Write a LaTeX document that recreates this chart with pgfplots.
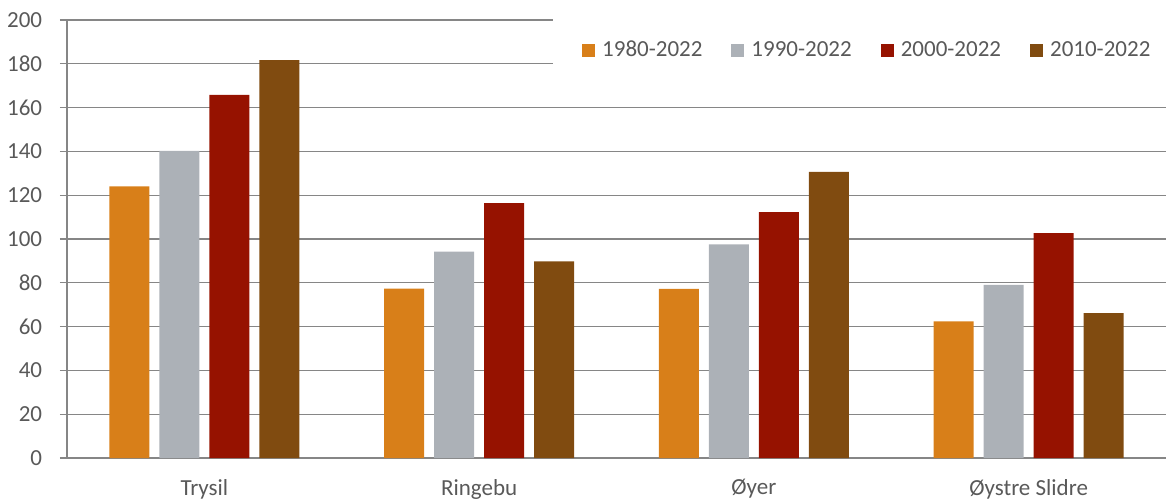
\documentclass[border=0pt]{standalone}
\usepackage{pgfplots}
\pgfplotsset{compat=1.18}
\usepackage{fontspec}
\setmainfont{Carlito}
\definecolor{c1}{HTML}{D87F19}
\definecolor{c2}{HTML}{ACB1B7}
\definecolor{c3}{HTML}{961200}
\definecolor{c4}{HTML}{804B10}
\definecolor{txt}{HTML}{595959}
\definecolor{gridc}{HTML}{868686}
\pgfplotsset{sqlegend/.style={legend image code/.code={\fill[##1,draw=none] (0pt,-6.5pt) rectangle (13pt,6.5pt); \path (17pt,0pt);}}}
\begin{document}
\fontsize{23}{27}\selectfont
\begin{tikzpicture}
\begin{axis}[name=ax,
  width=1099pt, height=438pt, scale only axis,
  xmin=-0.5, xmax=3.5, ymin=0, ymax=200,
  ytick={0,20,...,200},
  xtick={0,1,2,3},
  xticklabels={Trysil,Ringebu,Øyer,Øystre Slidre},
  ybar=10pt, bar width=40pt,
  axis x line*=bottom, axis y line*=left,
  axis line style={draw=gridc, line width=1.2pt, -},
  ymajorgrids, grid style={draw=gridc, line width=1.2pt},
  tick align=outside, major tick length=7pt,
  ytick style={draw=gridc, line width=1.2pt},
  xtick style={draw=none},
  ticklabel style={font=\fontsize{23}{27}\selectfont, text=txt},
  /pgf/number format/assume math mode=true,
  xticklabel style={yshift=-6.5pt},
  yticklabel style={xshift=-10pt},
  legend columns=4,
  legend style={draw=none, fill=none, at={(0.4686,0.93)}, anchor=west,
    inner sep=0pt, font=\fontsize{23}{27}\selectfont, text=txt,
    nodes={inner sep=3pt},
    /tikz/every even column/.append style={column sep=26pt}},
]
\addplot[fill=c1, draw=none, sqlegend] coordinates {(0,124) (1,77.3) (2,77.2) (3,62.4)};
\addplot[fill=c2, draw=none, sqlegend] coordinates {(0,140.2) (1,94.2) (2,97.5) (3,79.1)};
\addplot[fill=c3, draw=none, sqlegend] coordinates {(0,165.8) (1,116.4) (2,112.3) (3,102.7)};
\addplot[fill=c4, draw=none, sqlegend] coordinates {(0,181.7) (1,89.8) (2,130.6) (3,66.2)};
\fill[white] (rel axis cs:0.442,0.85) rectangle (rel axis cs:1,1.01);
\legend{1980-2022,1990-2022,2000-2022,2010-2022}
\end{axis}
\pgfresetboundingbox
\useasboundingbox ([xshift=-67pt,yshift=-43pt]ax.south west) rectangle ([yshift=20pt]ax.north east);
\end{tikzpicture}
\end{document}
